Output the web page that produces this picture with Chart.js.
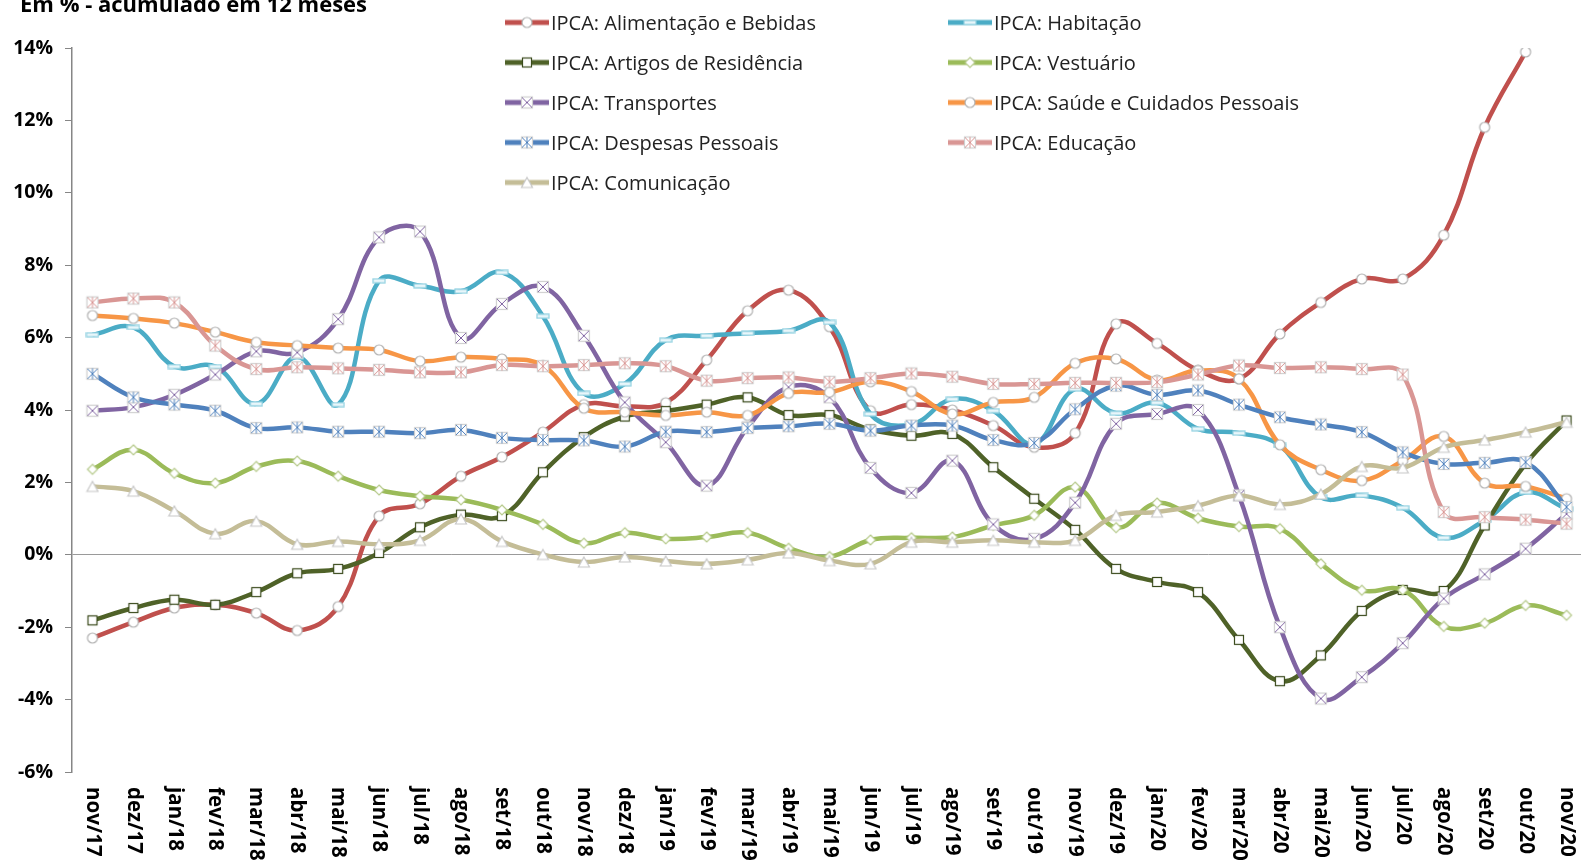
<!DOCTYPE html>
<html lang="pt-BR">
<head>
<meta charset="utf-8">
<title>IPCA por grupos - acumulado em 12 meses</title>
<script src="https://cdn.jsdelivr.net/npm/chart.js@4/dist/chart.umd.min.js"></script>
<style>
  html, body { margin: 0; padding: 0; background: #fff; overflow: hidden; }
  #wrap { position: relative; width: 1581px; height: 867px; overflow: hidden; }
  #ipca-chart { position: absolute; left: 0; top: 0; }
  #subtitle { position: absolute; left: 20px; top: -12px; font: bold 22px "Open Sans", sans-serif; color: #000; white-space: nowrap; }
  .leg { position: absolute; display: flex; align-items: center; font: 20px "Open Sans", sans-serif; color: #222; white-space: nowrap; transform: translateY(-50%); }
  .leg canvas { margin-right: 2px; }
</style>
</head>
<body>
<div id="wrap">
  <canvas id="ipca-chart" width="1587" height="867"></canvas>
  <div id="subtitle">Em % - acumulado em 12 meses</div>
  <div id="legend"></div>
</div>
<script>
const months = ['nov/17','dez/17','jan/18','fev/18','mar/18','abr/18','mai/18','jun/18','jul/18','ago/18','set/18','out/18',
  'nov/18','dez/18','jan/19','fev/19','mar/19','abr/19','mai/19','jun/19','jul/19','ago/19','set/19','out/19',
  'nov/19','dez/19','jan/20','fev/20','mar/20','abr/20','mai/20','jun/20','jul/20','ago/20','set/20','out/20','nov/20'];

const alimentacao = [-2.30,-1.86,-1.47,-1.38,-1.61,-2.09,-1.43,1.07,1.41,2.17,2.70,3.39,4.15,4.10,4.20,5.38,6.74,7.31,6.30,3.98,4.15,4.00,3.57,2.97,3.36,6.38,5.84,5.10,4.86,6.10,6.97,7.62,7.62,8.83,11.81,13.89,null];
const habitacao = [6.08,6.28,5.20,5.20,4.17,5.47,4.15,7.57,7.43,7.28,7.80,6.59,4.46,4.72,5.93,6.05,6.12,6.19,6.42,3.89,3.60,4.30,3.98,3.06,4.58,3.91,4.20,3.48,3.36,3.02,1.59,1.64,1.30,0.47,0.95,1.73,1.27];
const artigos = [-1.81,-1.47,-1.24,-1.38,-1.03,-0.51,-0.39,0.05,0.76,1.11,1.07,2.28,3.25,3.82,3.97,4.15,4.35,3.86,3.86,3.46,3.29,3.34,2.42,1.55,0.69,-0.39,-0.75,-1.03,-2.35,-3.49,-2.78,-1.55,-0.97,-1.00,0.81,2.51,3.71];
const vestuario = [2.36,2.90,2.25,1.98,2.44,2.59,2.17,1.79,1.62,1.52,1.24,0.84,0.32,0.61,0.44,0.49,0.61,0.18,-0.05,0.41,0.47,0.49,0.81,1.09,1.87,0.75,1.43,1.01,0.78,0.72,-0.25,-0.98,-0.97,-1.98,-1.89,-1.40,-1.67];
const transportes = [3.98,4.08,4.42,4.98,5.62,5.59,6.51,8.77,8.93,5.99,6.93,7.40,6.05,4.21,3.11,1.91,3.52,4.63,4.35,2.40,1.71,2.60,0.84,0.44,1.44,3.62,3.89,4.00,1.64,-2.00,-3.97,-3.38,-2.44,-1.21,-0.54,0.17,1.13];
const saude = [6.61,6.53,6.40,6.15,5.87,5.78,5.71,5.66,5.35,5.46,5.41,5.23,4.05,3.94,3.85,3.94,3.85,4.46,4.49,4.78,4.51,3.89,4.21,4.35,5.29,5.41,4.83,5.09,4.86,3.04,2.35,2.05,2.60,3.27,1.98,1.89,1.55];
const despesas = [5.00,4.35,4.15,3.98,3.50,3.52,3.40,3.40,3.36,3.45,3.23,3.17,3.16,2.99,3.40,3.39,3.50,3.55,3.62,3.43,3.57,3.57,3.17,3.09,4.02,4.67,4.42,4.54,4.15,3.80,3.60,3.39,2.83,2.51,2.54,2.56,1.32];
const educacao = [6.97,7.08,6.97,5.78,5.13,5.18,5.15,5.11,5.04,5.04,5.24,5.21,5.24,5.29,5.21,4.81,4.88,4.90,4.78,4.88,5.01,4.92,4.72,4.72,4.75,4.75,4.77,4.98,5.23,5.16,5.18,5.13,4.98,1.18,1.04,0.97,0.86];
const comunicacao = [1.89,1.76,1.21,0.58,0.93,0.29,0.37,0.29,0.40,0.99,0.37,0.01,-0.20,-0.06,-0.17,-0.25,-0.14,0.05,-0.16,-0.25,0.35,0.35,0.40,0.35,0.40,1.09,1.18,1.36,1.64,1.39,1.68,2.44,2.40,2.97,3.17,3.39,3.66];

const yTicks = { min: -6, max: 14, step: 2 };

// name, data, line colour, marker kind
const SERIES = [
  ['IPCA: Alimentação e Bebidas', alimentacao, '#C0504D', 'circle'],
  ['IPCA: Habitação', habitacao, '#4BACC6', 'dash'],
  ['IPCA: Artigos de Residência', artigos, '#4F6228', 'square'],
  ['IPCA: Vestuário', vestuario, '#9BBB59', 'diamond'],
  ['IPCA: Transportes', transportes, '#8064A2', 'boxx'],
  ['IPCA: Saúde e Cuidados Pessoais', saude, '#F79646', 'circle'],
  ['IPCA: Despesas Pessoais', despesas, '#4F81BD', 'boxstar'],
  ['IPCA: Educação', educacao, '#D99694', 'boxstar'],
  ['IPCA: Comunicação', comunicacao, '#C4BD97', 'triangle'],
];

// small canvas markers, Excel style (white fill)
function makeMarker(kind, color) {
  const c = document.createElement('canvas');
  const s = 14;
  c.width = s; c.height = kind === 'dash' ? 6 : s;
  const g = c.getContext('2d');
  g.fillStyle = '#fff';
  g.strokeStyle = color;
  g.lineWidth = 1.2;
  const m = s / 2;
  if (kind === 'circle') {
    g.beginPath(); g.arc(m, m, 5, 0, Math.PI * 2); g.fill();
    g.strokeStyle = '#b0b0b0'; g.stroke();
  } else if (kind === 'square') {
    g.fillRect(2.5, 2.5, 9, 9); g.strokeStyle = '#3a4a1c'; g.strokeRect(2.5, 2.5, 9, 9);
  } else if (kind === 'diamond') {
    g.beginPath(); g.moveTo(m, 2); g.lineTo(12, m); g.lineTo(m, 12); g.lineTo(2, m); g.closePath();
    g.fill(); g.strokeStyle = '#b5c98a'; g.stroke();
  } else if (kind === 'triangle') {
    g.beginPath(); g.moveTo(m, 2); g.lineTo(12.5, 12); g.lineTo(1.5, 12); g.closePath();
    g.fill(); g.strokeStyle = '#c8c8c8'; g.stroke();
  } else if (kind === 'boxx' || kind === 'boxstar') {
    g.fillRect(1.5, 1.5, 11, 11); g.strokeStyle = '#d0d0d0'; g.strokeRect(1.5, 1.5, 11, 11);
    g.strokeStyle = color; g.lineWidth = 1;
    g.beginPath();
    g.moveTo(2, 2); g.lineTo(12, 12); g.moveTo(12, 2); g.lineTo(2, 12);
    if (kind === 'boxstar') { g.moveTo(m, 1.5); g.lineTo(m, 12.5); }
    g.stroke();
  } else if (kind === 'dash') {
    g.fillStyle = '#e8f6fa'; g.fillRect(1, 1, 12, 4);
    g.strokeStyle = '#8fd0e0'; g.strokeRect(1, 1, 12, 4);
  }
  return c;
}

// month labels read top-to-bottom, which the tick options cannot do
const verticalLabels = {
  id: 'verticalLabels',
  afterDraw(chart) {
    const xs = chart.scales.x;
    const ctx = chart.ctx;
    ctx.save();
    ctx.font = 'bold 20.5px "Open Sans", sans-serif';
    ctx.fillStyle = '#000';
    ctx.textAlign = 'left';
    ctx.textBaseline = 'middle';
    chart.data.labels.forEach((lab, i) => {
      const x = xs.getPixelForValue(i);
      ctx.save();
      ctx.translate(x, xs.top + 15);
      ctx.rotate(Math.PI / 2);
      ctx.fillText(lab, 0, 0);
      ctx.restore();
    });
    ctx.restore();
  }
};

const datasets = SERIES.map(([label, data, color, kind], i) => ({
  label,
  data,
  borderColor: color,
  backgroundColor: color,
  borderWidth: 4.5,
  tension: 0.4,
  pointStyle: makeMarker(kind, color),
  pointRadius: 6,
  pointHoverRadius: 6,
  spanGaps: false,
  order: SERIES.length - i,
}));

const chart = new Chart(document.getElementById('ipca-chart'), {
  type: 'line',
  data: { labels: months, datasets },
  options: {
    responsive: false,
    animation: false,
    layout: { autoPadding: false, padding: { top: 48, left: 0, right: 0, bottom: 0 } },
    plugins: { legend: { display: false }, tooltip: { enabled: false } },
    scales: {
      x: {
        offset: true,
        grid: { display: false },
        border: { display: false },
        ticks: { display: false },
        afterFit(scale) { scale.height = 95; }
      },
      y: {
        min: yTicks.min,
        max: yTicks.max,
        border: { display: true, color: '#868686', width: 1.5 },
        grid: {
          color: ctx => (ctx.tick && ctx.tick.value === 0) ? '#9a9a9a' : 'rgba(0,0,0,0)',
          lineWidth: 1,
          tickColor: '#868686',
          tickLength: 7,
          drawTicks: true
        },
        ticks: {
          stepSize: yTicks.step,
          padding: 12,
          color: '#000',
          font: { family: '"Open Sans", sans-serif', size: 19.5, weight: 'bold' },
          callback: v => v + '%'
        },
        afterFit(scale) { scale.width = 72; }
      }
    }
  },
  plugins: [verticalLabels]
});

// two-column legend built from the chart's datasets
const legendBox = document.getElementById('legend');
const colX = [505, 948];
const rowY = [22, 62, 102, 142, 182];
chart.data.datasets.forEach((ds, i) => {
  const item = document.createElement('div');
  item.className = 'leg';
  item.style.left = colX[i % 2] + 'px';
  item.style.top = rowY[Math.floor(i / 2)] + 'px';
  const c = document.createElement('canvas');
  c.width = 44; c.height = 16;
  const g = c.getContext('2d');
  g.strokeStyle = ds.borderColor; g.lineWidth = 5;
  g.beginPath(); g.moveTo(0, 8); g.lineTo(44, 8); g.stroke();
  const mk = ds.pointStyle;
  g.drawImage(mk, 22 - mk.width / 2, 8 - mk.height / 2);
  item.appendChild(c);
  const span = document.createElement('span');
  span.textContent = ds.label;
  item.appendChild(span);
  legendBox.appendChild(item);
});
</script>
</body>
</html>
